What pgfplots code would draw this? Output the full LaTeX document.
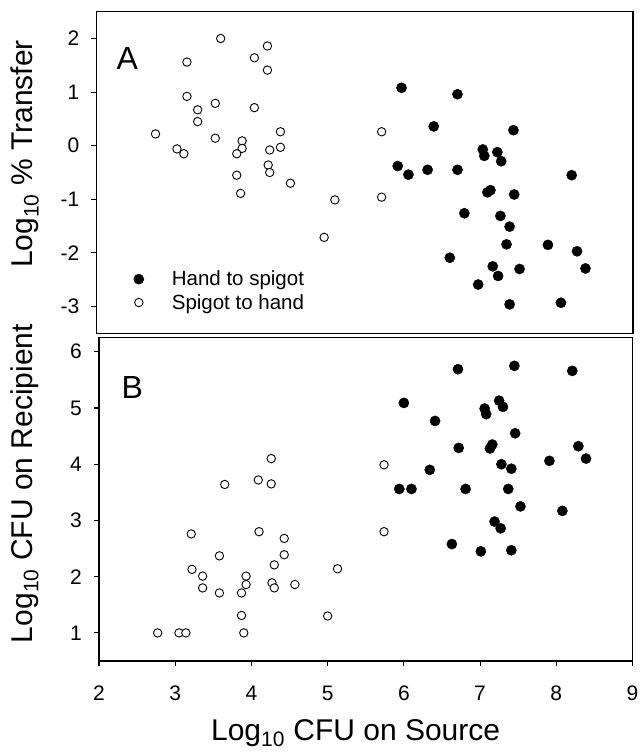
\documentclass[border=0pt]{standalone}
\usepackage{fontspec}
\setmainfont{Liberation Sans}
\usepackage{pgfplots}
\pgfplotsset{compat=1.18}

% panel A: log10 % transfer
\pgfplotstableread{
x y
5.98 1.08
6.71 0.96
6.40 0.36
7.44 0.29
7.04 -0.07
7.06 -0.19
7.23 -0.12
7.28 -0.29
5.93 -0.38
6.07 -0.54
6.32 -0.45
6.71 -0.45
8.20 -0.55
7.10 -0.87
7.14 -0.83
7.45 -0.91
6.80 -1.26
7.27 -1.31
7.39 -1.51
7.35 -1.84
7.89 -1.85
8.27 -1.97
6.61 -2.09
7.17 -2.25
7.52 -2.30
8.38 -2.29
7.24 -2.43
6.98 -2.59
7.39 -2.96
8.06 -2.93
}\handA
\pgfplotstableread{
x y
3.62 2.00
4.23 1.86
4.06 1.64
3.18 1.56
4.23 1.41
3.18 0.92
3.55 0.79
3.32 0.67
4.06 0.71
3.32 0.45
2.77 0.22
4.40 0.26
3.55 0.14
3.90 0.09
3.90 -0.05
3.05 -0.06
3.14 -0.15
3.83 -0.15
4.26 -0.08
4.40 -0.03
4.24 -0.36
4.26 -0.50
3.83 -0.55
4.53 -0.70
3.88 -0.89
5.11 -1.01
4.97 -1.71
5.72 0.26
5.72 -0.96
}\spigA

% panel B: log10 CFU on recipient
\pgfplotstableread{
x y
6.71 5.69
7.45 5.75
8.21 5.66
6.00 5.09
7.25 5.13
7.30 5.02
7.06 4.99
7.08 4.89
6.41 4.77
7.46 4.55
6.72 4.29
7.16 4.35
7.13 4.28
8.29 4.32
8.39 4.10
7.91 4.06
7.28 4.00
7.41 3.92
6.34 3.90
5.94 3.56
6.10 3.56
6.81 3.56
7.37 3.56
7.53 3.25
8.08 3.17
7.19 2.98
7.27 2.86
6.63 2.58
7.01 2.45
7.41 2.47
}\handB
\pgfplotstableread{
x y
4.26 4.10
3.65 3.64
4.09 3.72
4.26 3.65
3.21 2.76
4.10 2.80
4.43 2.68
3.58 2.37
4.43 2.39
3.22 2.13
5.13 2.14
4.30 2.21
3.36 2.01
3.93 2.01
3.93 1.86
4.27 1.89
3.36 1.80
4.30 1.80
4.57 1.86
3.58 1.71
3.87 1.71
3.87 1.31
5.00 1.30
2.77 1.00
3.05 1.00
3.14 1.00
3.90 1.00
5.74 3.99
5.74 2.80
}\spigB

\pgfplotsset{
  panel/.style={
    scale only axis,
    xmin=2, xmax=9,
    axis line style={line width=1.1pt},
    tick style={line width=1.1pt, black},
    tick align=outside, major tick length=5pt,
    ytick pos=left, xtick pos=bottom,
    tick label style={font=\fontsize{21}{25}\selectfont},
    label style={font=\fontsize{30}{35}\selectfont},
    /pgf/number format/assume math mode=true,
    yticklabel style={anchor=east, inner sep=0pt, xshift=-12pt},
  },
  hand/.style={only marks, mark=*, mark size=5.1pt, black},
  spig/.style={only marks, mark=*, mark size=4.2pt,
    mark options={fill=white, draw=black, line width=0.9pt}},
}

\begin{document}
\begin{tikzpicture}
\path[use as bounding box] (0pt,0pt) rectangle (641pt,-753pt);

\begin{axis}[panel,
  at={(96.5pt,-11.7pt)}, anchor=north west, width=536.5pt, height=321.6pt,
  ymin=-3.5, ymax=2.5,
  ytick={-3,-2,-1,0,1,2}, yticklabels={-3,-2,-1,0,1,2},
  xtick=\empty,
  ylabel={Log\textsubscript{10} \% Transfer},
  ylabel style={at={(axis description cs:-0.119,0.5575)}, anchor=base},
  legend style={draw=none, fill=none, at={(axis description cs:0.230,0.132)},
    anchor=center, font=\fontsize{20.5}{24}\selectfont, row sep=3pt},
  legend cell align=left,
  legend image code/.code={\draw[#1, only marks] plot coordinates {(0pt,0pt)}; \path[draw=none] (0pt,0pt) -- (31pt,0pt);},
]
\addplot[hand] table {\handA};
\addlegendentry{Hand to spigot}
\addplot[spig] table {\spigA};
\addlegendentry{Spigot to hand}
\node[anchor=west, inner sep=0pt, font=\fontsize{32}{38}\selectfont] at (axis description cs:0.037,0.855) {A};
\end{axis}

\begin{axis}[panel,
  at={(99pt,-337.7pt)}, anchor=north west, width=533.5pt, height=323.3pt,
  ymin=0.5, ymax=6.25,
  ytick={1,2,3,4,5,6},
  xtick={2,3,4,5,6,7,8,9},
  xticklabel style={anchor=base, yshift=-34pt},
  ylabel={Log\textsubscript{10} CFU on Recipient},
  ylabel style={at={(axis description cs:-0.125,0.549)}, anchor=base},
  xlabel={Log\textsubscript{10} CFU on Source},
  xlabel style={at={(axis description cs:0.481,-0.247)}, anchor=base},
]
\addplot[hand] table {\handB};
\addplot[spig] table {\spigB};
\node[anchor=west, inner sep=0pt, font=\fontsize{32}{38}\selectfont] at (axis description cs:0.042,0.847) {B};
\end{axis}
\end{tikzpicture}
\end{document}
